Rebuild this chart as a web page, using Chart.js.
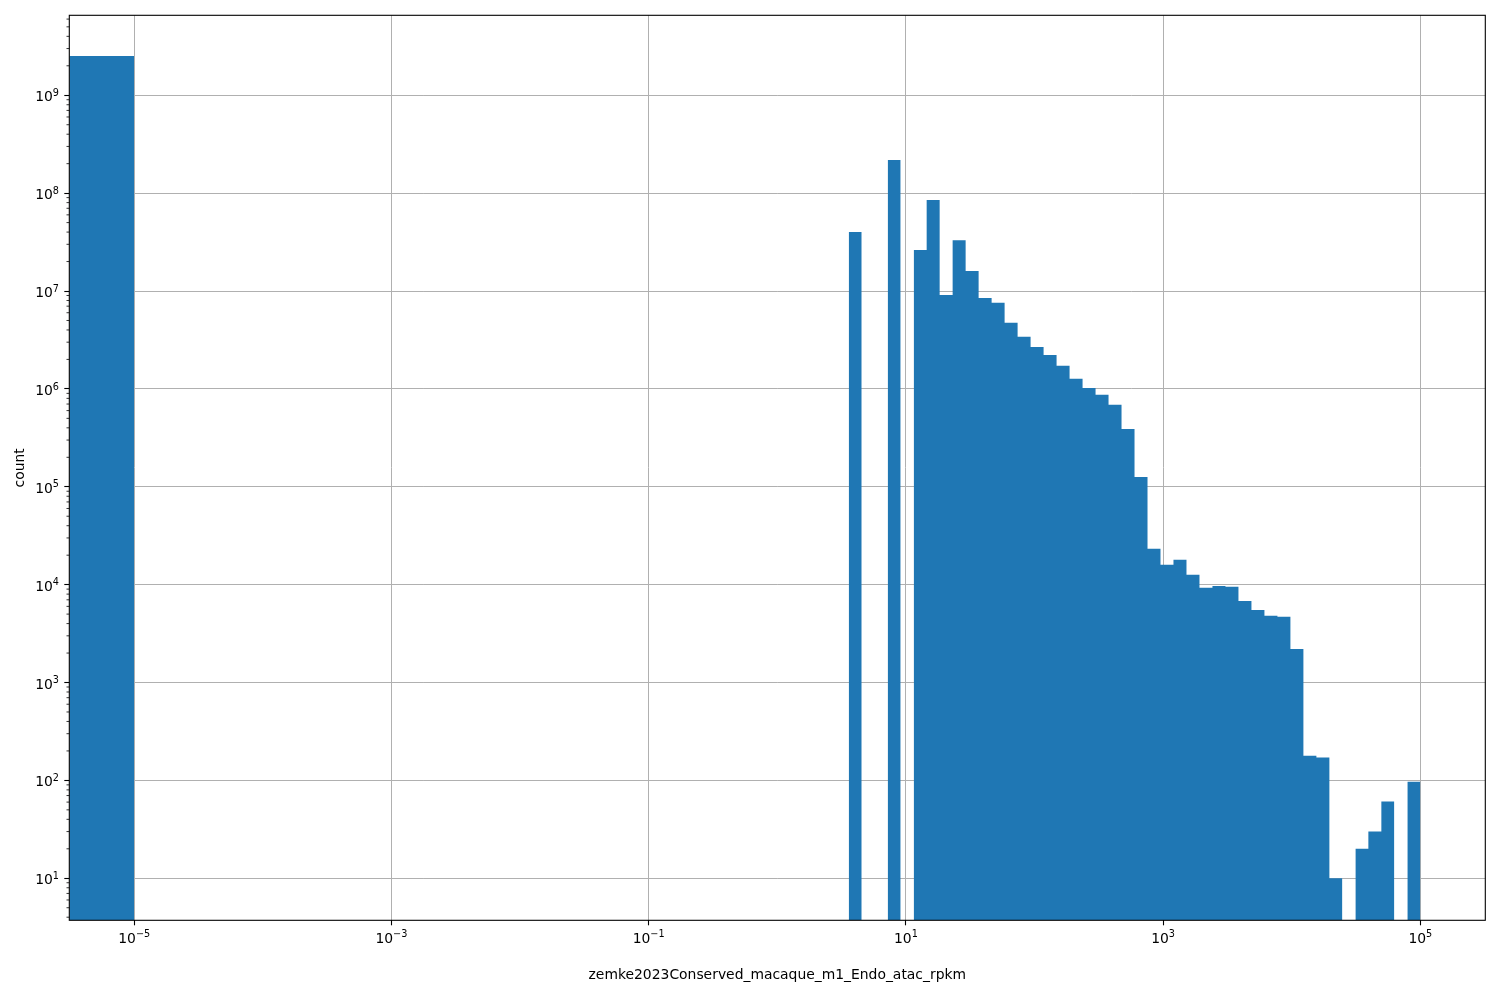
<!DOCTYPE html>
<html>
<head>
<meta charset="utf-8">
<title>zemke2023Conserved_macaque_m1_Endo_atac_rpkm</title>
<script src="https://cdn.jsdelivr.net/npm/chart.js@4.4.1/dist/chart.umd.min.js"></script>
<style>
  html, body { margin: 0; padding: 0; background: #fff; }
  #wrap { width: 1500px; height: 1000px; }
</style>
</head>
<body>
<div id="wrap"><canvas id="hist"></canvas></div>
<script>
// histogram bin edges (rpkm), first bin starts at 0
const binEdges = [0, 1e-5,
    3.594, 4.536, 5.722, 7.221, 9.112, 11.50, 14.51, 18.31, 23.10, 29.15,
    36.78, 46.42, 58.57, 73.91, 93.26, 117.7, 148.5, 187.4, 236.5, 298.4,
    376.5, 475.1, 599.5, 756.5, 954.5, 1204, 1520, 1918, 2420, 3054,
    3854, 4863, 6136, 7743, 9770, 12328, 15556, 19630, 24770, 31257,
    39442, 49770, 62803, 79248, 100000];
// count per bin (0 = empty bin)
const binCounts = [2.52e9, 0,
    4.0e7, 0, 0, 2.18e8, 0, 2.63e7, 8.5e7, 9.1e6, 3.3e7, 1.6e7,
    8.5e6, 7.6e6, 4.74e6, 3.40e6, 2.68e6, 2.22e6, 1.72e6, 1.27e6, 1.02e6, 8.7e5,
    6.9e5, 3.9e5, 1.26e5, 2.32e4, 1.6e4, 1.8e4, 1.26e4, 9300, 9700, 9500,
    6800, 5500, 4800, 4700, 2200, 179, 171, 10, 0, 20,
    30, 61, 0, 97];

// tick labels are drawn as 10 with a raised exponent
const xTickValues = [1e-5, 1e-3, 1e-1, 1e1, 1e3, 1e5];
const xTickExps = ['\u22125', '\u22123', '\u22121', '1', '3', '5'];
const yTickValues = [1e1, 1e2, 1e3, 1e4, 1e5, 1e6, 1e7, 1e8, 1e9];
const yTickExps = ['1', '2', '3', '4', '5', '6', '7', '8', '9'];
const xRange = [3.13e-6, 3.2e5];
const yRange = [3.72, 6.56e9];

const xLabel = 'zemke2023Conserved_macaque_m1_Endo_atac_rpkm';
const yLabel = 'count';

// outline of the bars, broken at empty bins
const outline = [];
for (let i = 0; i < binCounts.length; i++) {
    if (binCounts[i] > 0) {
        const left = Math.max(binEdges[i], xRange[0]);
        outline.push({x: left, y: binCounts[i]});
        outline.push({x: binEdges[i + 1], y: binCounts[i]});
    } else {
        outline.push({x: binEdges[i], y: null});
    }
}

// minor ticks on the y axis (2..9 x 10^n)
const yMinor = [];
for (let e = 0; e <= 9; e++) {
    for (let m = 2; m <= 9; m++) {
        const v = m * Math.pow(10, e);
        if (v > yRange[0] && v < yRange[1]) yMinor.push(v);
    }
}

const baseFont = '13.9px "DejaVu Sans"';
const expFont = '9.7px "DejaVu Sans"';

function drawPow(ctx, exp, x, baseline, align) {
    ctx.font = baseFont;
    const w1 = ctx.measureText('10').width;
    ctx.font = expFont;
    const w2 = ctx.measureText(exp).width;
    const w = w1 + w2;
    let x0 = align === 'right' ? x - w : x - w / 2;
    ctx.font = baseFont;
    ctx.fillText('10', x0, baseline);
    ctx.font = expFont;
    ctx.fillText(exp, x0 + w1, baseline - 5.4);
}

const framePlugin = {
    id: 'frame',
    afterDraw(chart) {
        const {ctx, chartArea: a} = chart;
        const xs = chart.scales.x;
        const ys = chart.scales.y;
        ctx.save();
        ctx.strokeStyle = '#000';
        ctx.lineWidth = 0.8;
        ctx.beginPath();
        yMinor.forEach(v => {
            const py = ys.getPixelForValue(v);
            ctx.moveTo(a.left - 2.8, py);
            ctx.lineTo(a.left, py);
        });
        ctx.stroke();
        ctx.lineWidth = 1.1;
        ctx.strokeRect(a.left, a.top, a.right - a.left, a.bottom - a.top);

        ctx.fillStyle = '#000';
        ctx.textBaseline = 'alphabetic';
        ctx.textAlign = 'left';
        xTickValues.forEach((v, i) => {
            drawPow(ctx, xTickExps[i], xs.getPixelForValue(v), a.bottom + 22.4, 'center');
        });
        yTickValues.forEach((v, i) => {
            drawPow(ctx, yTickExps[i], a.left - 10.3, ys.getPixelForValue(v) + 6.1, 'right');
        });
        ctx.restore();
    }
};

Chart.defaults.font.family = 'DejaVu Sans';
Chart.defaults.font.size = 13.9;
Chart.defaults.color = '#000';

new Chart(document.getElementById('hist'), {
    type: 'line',
    data: {
        datasets: [{
            data: outline,
            borderWidth: 0,
            pointRadius: 0,
            tension: 0,
            spanGaps: false,
            fill: 'start',
            backgroundColor: '#1f77b4',
            borderColor: '#1f77b4',
        }]
    },
    options: {
        responsive: true,
        maintainAspectRatio: false,
        animation: false,
        layout: { padding: { left: 0, right: 14.7, top: 15.3, bottom: 0 } },
        plugins: {
            legend: { display: false },
            tooltip: { enabled: false },
        },
        scales: {
            x: {
                type: 'logarithmic',
                z: 1,
                bounds: 'data',
                min: xRange[0],
                max: xRange[1],
                afterBuildTicks: (s) => { s.ticks = xTickValues.map(v => ({value: v})); },
                afterFit: (s) => { s.height = 79.7; },
                ticks: { display: false, autoSkip: false, maxRotation: 0 },
                grid: { color: '#b0b0b0', lineWidth: 1, tickColor: '#000', tickLength: 5, tickWidth: 1.1 },
                border: { display: false },
                title: { display: true, text: xLabel, color: '#000', padding: { top: 0, bottom: 16.7 } },
            },
            y: {
                type: 'logarithmic',
                z: 1,
                bounds: 'data',
                min: yRange[0],
                max: yRange[1],
                afterBuildTicks: (s) => { s.ticks = yTickValues.map(v => ({value: v})); },
                afterFit: (s) => { s.width = 69.3; },
                ticks: { display: false, autoSkip: false },
                grid: { color: '#b0b0b0', lineWidth: 1, tickColor: '#000', tickLength: 5, tickWidth: 1.1 },
                border: { display: false },
                title: { display: true, text: yLabel, color: '#000', padding: { top: 11.7, bottom: 0 } },
            }
        }
    },
    plugins: [framePlugin]
});
</script>
</body>
</html>
